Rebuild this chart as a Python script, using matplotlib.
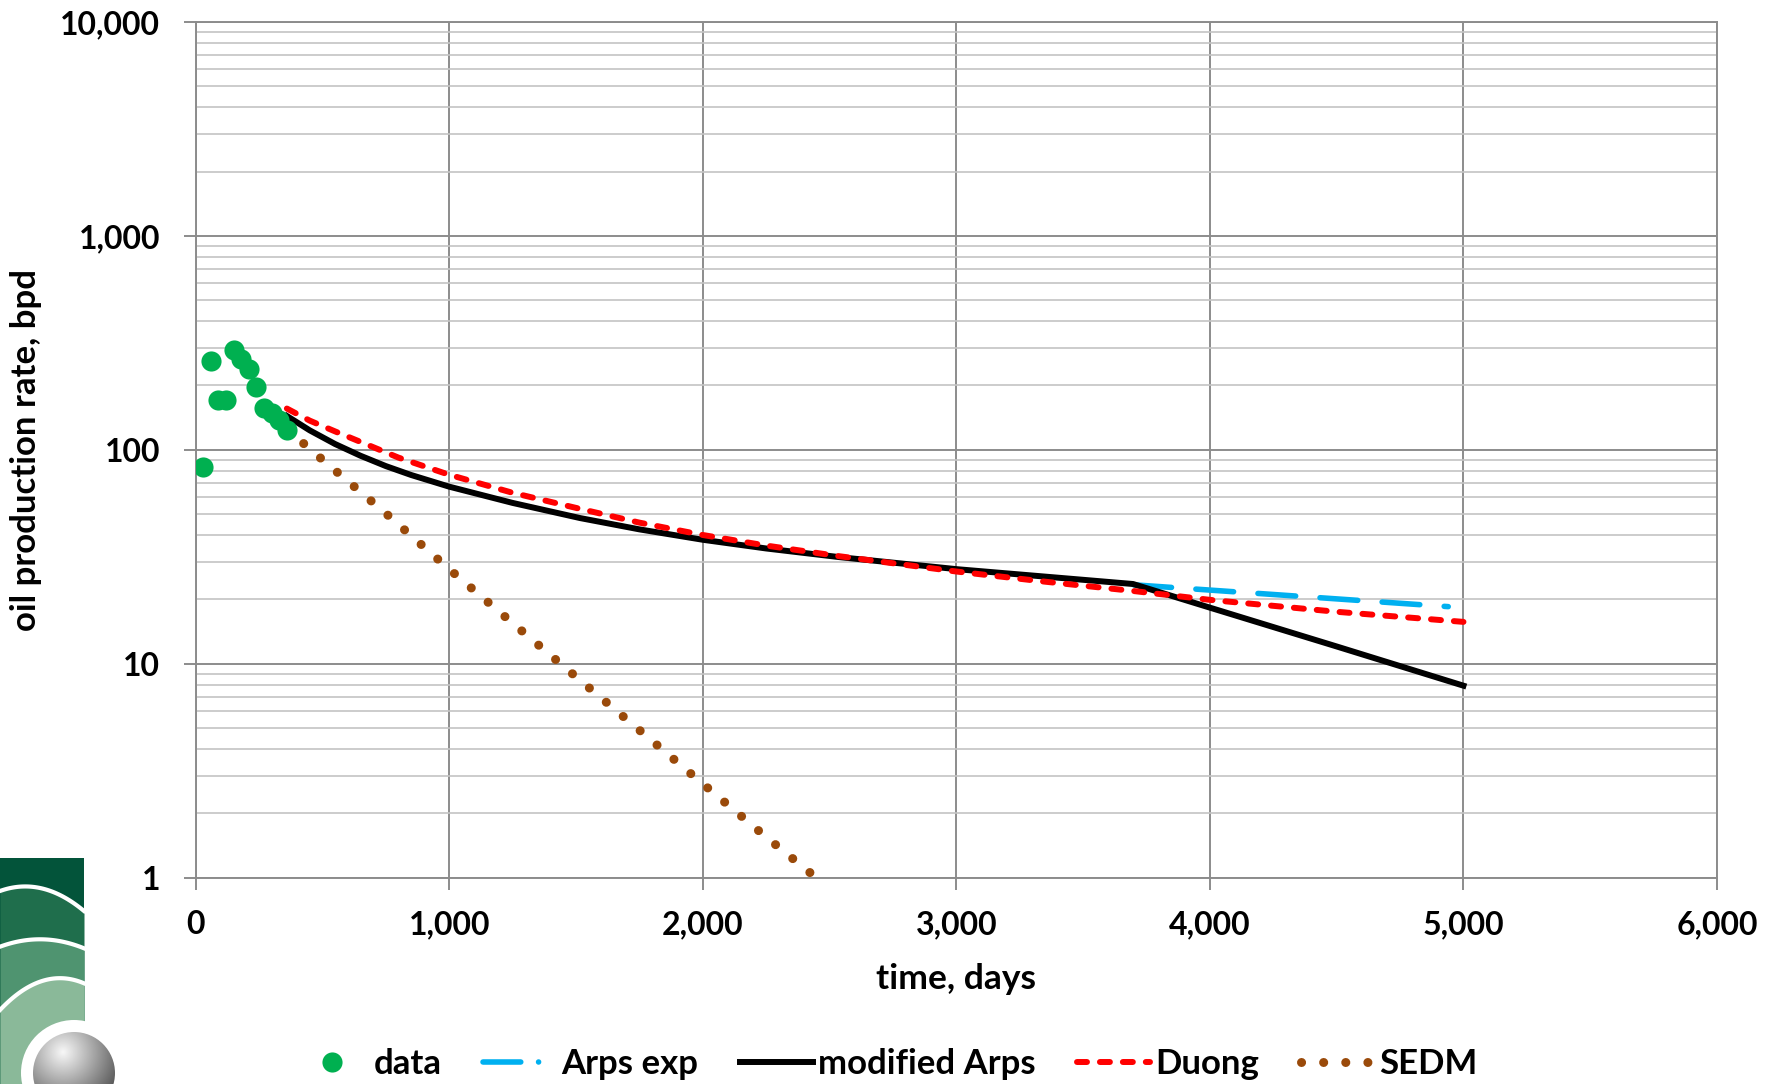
import numpy as np
import matplotlib
matplotlib.use("Agg")
import matplotlib.pyplot as plt
from matplotlib.lines import Line2D
from matplotlib.patches import Circle
from matplotlib.ticker import FuncFormatter, LogLocator, MultipleLocator, NullFormatter

plt.rcParams['font.family'] = ['Lato', 'DejaVu Sans']
plt.rcParams['font.weight'] = 'bold'

# monthly production data
data_days = [30, 60, 90, 120, 150, 180, 210, 240, 270, 300, 330, 360]
data_rate = [83, 259, 171, 171, 293, 265, 240, 197, 157, 148, 138, 124]

# fitted models
arps_days = [3700, 4940]
arps_rate = [23.4, 18.5]

marps_days = [360, 450, 550, 650, 750, 850, 1000, 1250, 1516, 1750, 2000, 2250,
              2541, 3000, 3697, 4000, 4500, 5000]
marps_rate = [144, 123.4, 106.5, 93.9, 84, 76.3, 67.3, 56.5, 48, 42.5, 38, 34.6,
              31.5, 27.7, 23.6, 18.3, 12.05, 7.9]

duong_days = [360, 450, 550, 650, 800, 1000, 1250, 1516, 1750, 2000, 2250,
              2541, 3000, 3350, 3697, 4000, 4500, 5000]
duong_rate = [156, 137, 122, 109, 92, 76.5, 63, 53, 45.7, 40, 35.7,
              31.8, 27, 24.2, 21.9, 19.9, 17.5, 15.7]

sedm_days = [360, 500, 750, 1000, 1250, 1500, 1750, 2000, 2250, 2430]
sedm_rate = [125, 90, 50.5, 27.7, 15.5, 8.7, 4.9, 2.75, 1.55, 1.04]

green = '#00B050'
blue = '#00B0F0'
red = '#FF0000'
brown = '#9A4A0A'

fig = plt.figure(figsize=(17.83, 10.84), dpi=100)
ax = fig.add_axes([0.1097, 0.1903, 0.8533, 0.7894])

ax.plot(arps_days, arps_rate, color=blue, lw=4, dashes=(6.8, 4.4),
        dash_capstyle='round', zorder=3, label='Arps exp')
ax.plot(marps_days, marps_rate, color='black', lw=4.3, zorder=4, label='modified Arps')
ax.plot(duong_days, duong_rate, color=red, lw=4.3, dashes=(1.67, 2.17),
        dash_capstyle='round', zorder=5, label='Duong')
ax.plot(sedm_days, sedm_rate, color=brown, lw=6.5, dashes=(0.01, 2.44),
        dash_capstyle='round', zorder=5, label='SEDM')
ax.plot(data_days, data_rate, 'o', color=green, ms=14.5, mec='none', zorder=6, label='data')

ax.set_yscale('log')
ax.set_xlim(0, 6000)
ax.set_ylim(1, 10000)
ax.xaxis.set_major_locator(MultipleLocator(1000))
ax.yaxis.set_major_locator(LogLocator(base=10))
ax.yaxis.set_minor_locator(LogLocator(base=10, subs=np.arange(2, 10)))
ax.yaxis.set_minor_formatter(NullFormatter())
fmt = FuncFormatter(lambda v, p: '{:,.0f}'.format(v))
ax.xaxis.set_major_formatter(fmt)
ax.yaxis.set_major_formatter(fmt)

ax.grid(True, which='major', color='#8c8c8c', lw=1.4)
ax.grid(True, which='minor', axis='y', color='#c4c4c4', lw=1.2)
ax.set_axisbelow(True)
for s in ax.spines.values():
    s.set_color('#8c8c8c')
    s.set_linewidth(1.4)
ax.tick_params(which='major', length=8.6, width=1.4, color='#8c8c8c',
               labelsize=23, pad=17)
ax.tick_params(axis='x', which='major', pad=15)
ax.tick_params(which='minor', length=0)
for lab in ax.get_xticklabels() + ax.get_yticklabels():
    lab.set_fontweight('bold')

ax.set_xlabel('time, days', fontsize=25.5, fontweight='bold')
ax.xaxis.set_label_coords(0.5, -0.1)
ax.set_ylabel('oil production rate, bpd', fontsize=25, fontweight='bold')
ax.yaxis.set_label_coords(-0.101, 0.5)

# legend, with a long-dash-dot sample for Arps exp
h, l = ax.get_legend_handles_labels()
order = ['data', 'Arps exp', 'modified Arps', 'Duong', 'SEDM']
hd = dict(zip(l, h))
hd['Arps exp'] = Line2D([], [], color=blue, lw=4, dashes=(6.8, 3.2, 0.01, 8),
                        dash_capstyle='round')
fig.legend([hd[k] for k in order], order, loc='center', bbox_to_anchor=(0.497, 0.018),
           ncol=5, frameon=False, numpoints=1, handlelength=2.1, handletextpad=0.15,
           columnspacing=1.2, prop={'size': 25, 'weight': 'bold'})

# company logo, bottom left (pixel coordinates of the crop)
lg = fig.add_axes([0, 0, 130 / 1783, 234 / 1084])
lg.axis('off')
xs = np.linspace(0, 84, 60)
lg.fill_between([0, 84], 858, 1084, color='#03543A', lw=0)
arcs = [([0, 40, 84], [891, 888, 911], '#1F6E4C'),
        ([0, 40, 84], [946.7, 939.3, 948.3], '#4F9470'),
        ([0, 40, 84], [1010, 981.7, 983.3], '#8AB999')]
for ax_pts, ay_pts, col in arcs:
    ys = np.polyval(np.polyfit(ax_pts, ay_pts, 2), xs)
    lg.fill_between(xs, ys, 1084, color=col, lw=0)
    lg.plot(xs, ys, color='white', lw=3)
cx, cy, r = 74, 1073, 41
lg.add_patch(Circle((cx, cy), 53, color='white', lw=0, zorder=2))
gx, gy = np.meshgrid(np.linspace(cx - r, cx + r, 200), np.linspace(cy - r, cy + r, 200))
shade = 0.97 - 0.72 * np.hypot(gx - 63, gy - 1052) / 70
im = lg.imshow(shade, cmap='gray', vmin=0, vmax=1, extent=[cx - r, cx + r, cy + r, cy - r],
               interpolation='bilinear', zorder=3)
im.set_clip_path(Circle((cx, cy), r, transform=lg.transData))
lg.set_xlim(0, 130)
lg.set_ylim(1084, 850)
lg.set_aspect('auto')

fig.savefig('out.png', dpi=100)
